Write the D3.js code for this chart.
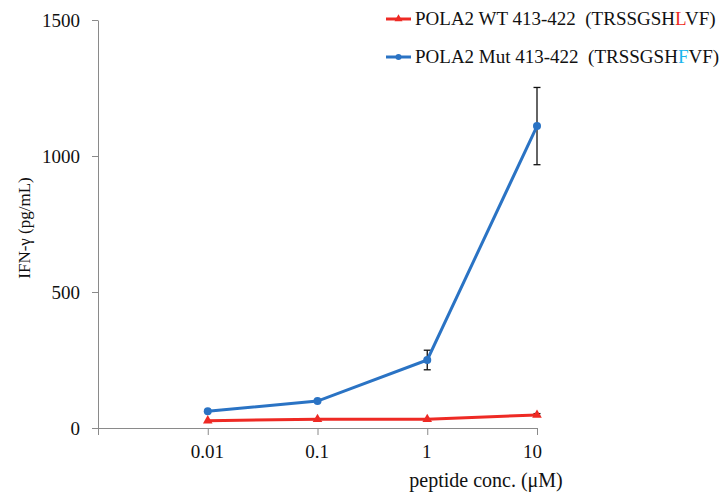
<!DOCTYPE html>
<html>
<head>
<meta charset="utf-8">
<script src="https://cdn.jsdelivr.net/npm/d3@7"></script>
<style>
  html, body { margin: 0; padding: 0; background: #fff; }
  svg { display: block; }
  svg text { font-family: "Liberation Serif", "Times New Roman", Times, serif; fill: #111; }
</style>
</head>
<body>
<svg id="chart" width="725" height="493"></svg>
<script>
// ---- data ----
const concentrations = ["0.01", "0.1", "1", "10"];
const wtValues  = [27, 32, 32, 48];
const wtErrors  = [0, 0, 0, 5];
const mutValues = [62, 99, 250, 1110];
const mutErrors = [0, 4, 36, 142];
const yTicks = [0, 500, 1000, 1500];
const seriesNames = [
  { parts: ["POLA2 WT 413-422  (TRSSGSH", "L", "VF)"], accent: "#ee2a24" },
  { parts: ["POLA2 Mut 413-422  (TRSSGSH", "F", "VF)"], accent: "#19b4ee" }
];
const xTitle = "peptide conc. (\u03bcM)";
const yTitle = "IFN-\u03b3 (pg/mL)";

// ---- layout ----
const FONT = '"Liberation Serif", "Times New Roman", Times, serif';
const svg = d3.select("#chart");
const plotLeft = 98, plotRight = 537, plotTop = 20, plotBottom = 428;
const axisColor = "#8a8a8a";
const red = "#ee2a24", blue = "#2a73c4";

const x = d3.scalePoint().domain([""].concat(concentrations)).range([plotLeft, plotRight]);
const y = d3.scaleLinear().domain([0, 1500]).range([plotBottom, plotTop]);

// y axis
const yAxis = svg.append("g").attr("transform", `translate(${plotLeft},0)`)
  .call(d3.axisLeft(y).tickValues(yTicks).tickFormat(d3.format("d")).tickSize(6).tickSizeOuter(0).tickPadding(12));
yAxis.attr("font-family", null).attr("font-size", null);
yAxis.select(".domain").attr("stroke", axisColor);
yAxis.selectAll(".tick line").attr("stroke", axisColor);
yAxis.selectAll(".tick text").style("font-family", FONT).style("font-size", "19px").attr("fill", "#111");

// x axis
const xAxis = svg.append("g").attr("transform", `translate(0,${plotBottom})`)
  .call(d3.axisBottom(x).tickSize(7).tickSizeOuter(0).tickPadding(10));
xAxis.attr("font-family", null).attr("font-size", null);
xAxis.select(".domain").attr("stroke", axisColor);
xAxis.selectAll(".tick line").attr("stroke", axisColor);
xAxis.selectAll(".tick text").style("font-family", FONT).style("font-size", "19px").attr("fill", "#111")
  .attr("dx", d => d === "10" ? -5 : -1);

// axis titles
svg.append("text").attr("x", 486).attr("y", 487).attr("text-anchor", "middle")
  .style("font-family", FONT).style("font-size", "20px").text(xTitle);
svg.append("text").attr("transform", `translate(30,${(plotTop + plotBottom) / 2 + 4}) rotate(-90)`)
  .attr("text-anchor", "middle").style("font-family", FONT).style("font-size", "17px").text(yTitle);

// series
const line = d3.line().x(d => x(d.c)).y(d => y(d.v));
function series(values, errors, color) {
  return concentrations.map((c, i) => ({ c, v: values[i], e: errors[i], color }));
}
const wt = series(wtValues, wtErrors, red);
const mut = series(mutValues, mutErrors, blue);

function drawErrors(data) {
  const g = svg.append("g").attr("stroke", "#111").attr("stroke-width", 1.3);
  data.filter(d => d.e > 0).forEach(d => {
    const cx = x(d.c);
    g.append("line").attr("x1", cx).attr("x2", cx).attr("y1", y(d.v + d.e)).attr("y2", y(d.v - d.e));
    g.append("line").attr("x1", cx - 3.5).attr("x2", cx + 3.5).attr("y1", y(d.v + d.e)).attr("y2", y(d.v + d.e));
    g.append("line").attr("x1", cx - 3.5).attr("x2", cx + 3.5).attr("y1", y(d.v - d.e)).attr("y2", y(d.v - d.e));
  });
}

drawErrors(mut);
drawErrors(wt);

svg.append("path").datum(mut).attr("fill", "none").attr("stroke", blue).attr("stroke-width", 3).attr("d", line);
svg.append("path").datum(wt).attr("fill", "none").attr("stroke", red).attr("stroke-width", 3).attr("d", line);

svg.append("g").selectAll("circle").data(mut).join("circle")
  .attr("cx", d => x(d.c)).attr("cy", d => y(d.v)).attr("r", 4).attr("fill", blue);
const tri = d3.symbol().type(d3.symbolTriangle).size(40);
svg.append("g").selectAll("path").data(wt).join("path")
  .attr("transform", d => `translate(${x(d.c)},${y(d.v)})`).attr("d", tri).attr("fill", red);

// legend
const legendRows = [19, 57];
seriesNames.forEach((s, i) => {
  const ly = legendRows[i];
  const color = i === 0 ? red : blue;
  svg.append("line").attr("x1", 386).attr("x2", 411).attr("y1", ly).attr("y2", ly)
    .attr("stroke", color).attr("stroke-width", 3);
  if (i === 0) {
    svg.append("path").attr("transform", `translate(398.5,${ly})`).attr("d", d3.symbol().type(d3.symbolTriangle).size(28)).attr("fill", red);
  } else {
    svg.append("circle").attr("cx", 398.5).attr("cy", ly).attr("r", 3).attr("fill", blue);
  }
  const t = svg.append("text").attr("x", 415).attr("y", ly + 6).style("font-family", FONT).style("font-size", "19px")
    .attr("xml:space", "preserve").style("white-space", "pre");
  t.append("tspan").text(s.parts[0]);
  t.append("tspan").style("fill", s.accent).text(s.parts[1]);
  t.append("tspan").text(s.parts[2]);
});
</script>
</body>
</html>
